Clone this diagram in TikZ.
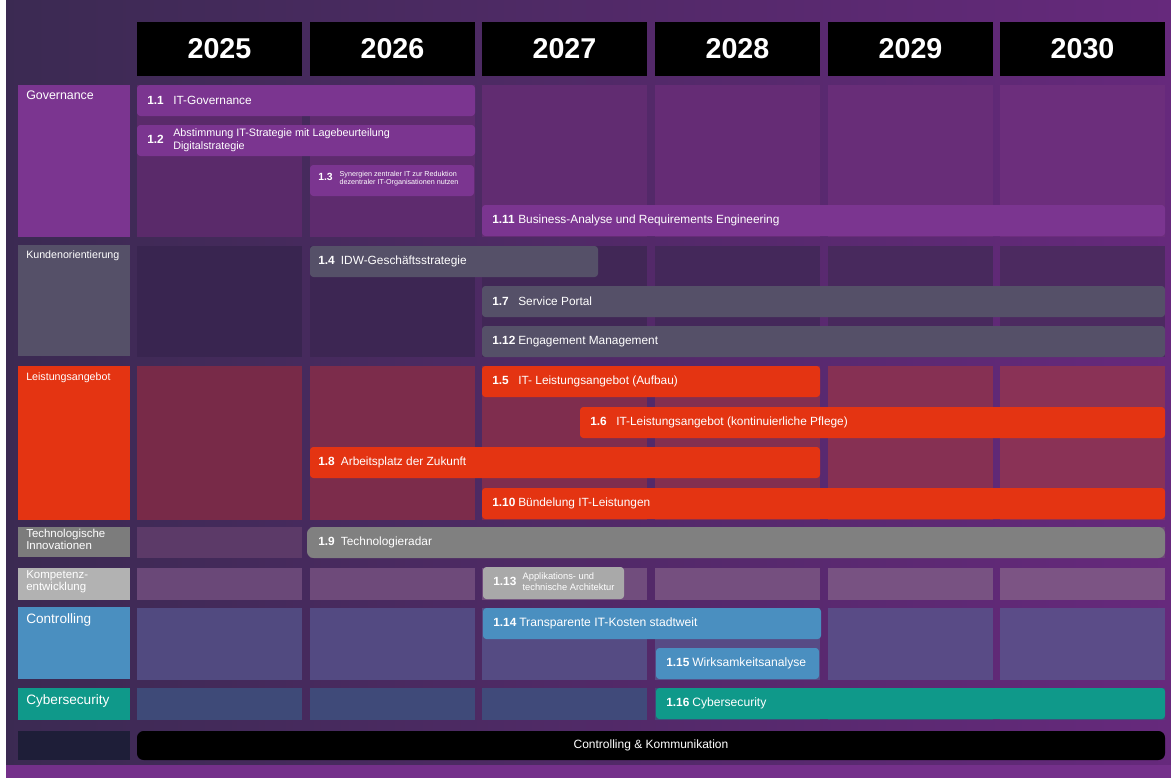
\documentclass[tikz,border=0pt]{standalone}
\usepackage{fontspec}
\setmainfont{Liberation Sans}
\usetikzlibrary{fit,calc}
\definecolor{bgL}{HTML}{3B2A52}
\definecolor{bgR}{HTML}{66297C}
\definecolor{bgBottom}{HTML}{74308A}
\definecolor{govC}{HTML}{7B3590}
\definecolor{kunC}{HTML}{555068}
\definecolor{leiC}{HTML}{E43412}
\definecolor{tecC}{HTML}{7C7C7C}
\definecolor{tecBar}{HTML}{808080}
\definecolor{komC}{HTML}{B2B2B2}
\definecolor{komBar}{HTML}{A9A9A9}
\definecolor{conC}{HTML}{4A8FC0}
\definecolor{cybC}{HTML}{0F998A}
\definecolor{navyC}{HTML}{1E1E38}
% cell colours (left / right)
\definecolor{govA}{HTML}{5A2A6A}\definecolor{govB}{HTML}{6C2E7C}
\definecolor{kunA}{HTML}{392550}\definecolor{kunB}{HTML}{4C2A60}
\definecolor{leiA}{HTML}{782A48}\definecolor{leiB}{HTML}{8A3256}
\definecolor{tecA}{HTML}{5C3A68}\definecolor{tecB}{HTML}{6E4478}
\definecolor{komA}{HTML}{6A4878}\definecolor{komB}{HTML}{7C5484}
\definecolor{conA}{HTML}{514A80}\definecolor{conB}{HTML}{5B4C88}
\definecolor{cybA}{HTML}{3E4A78}\definecolor{cybB}{HTML}{434A7C}

\tikzset{
  box/.style={inner sep=0pt, outer sep=0pt, draw=none},
  taskbox/.style={box, rounded corners=2.5pt},
  tasktext/.style={inner sep=0pt, text=white, font=\fontsize{8.9}{10.5}\selectfont, anchor=west},
  labeltext/.style={inner sep=0pt, text=white, anchor=north west, align=left},
  yeartext/.style={inner sep=0pt, text=white, font=\fontsize{21.5}{24}\selectfont\bfseries},
}

\newcommand\rowlabel[6]{% name, y1, y2, colour, font, text
  \node[box, fill=#4, fit={(18,#2)(130,#3)}] (#1) {};
  \node[labeltext, font=#5] (#1t) at ($(#1.north west)+(8,6)$) {#6};
}
\newcommand\rowcells[4]{% y1, y2, colA, colB
  \foreach \i/\xl in {0/137,1/310,2/482,3/655,4/828,5/1000}{
    \pgfmathtruncatemacro\pct{100-20*\i}
    \fill[#3!\pct!#4] (\xl,#1) rectangle ({\xl+165},#2);
  }
}
\newcommand\task[8]{% name, x1, y1, x2, y2, colour, number, text
  \node[taskbox, fill=#6, fit={(#2,#3)(#4,#5)}] (#1) {};
  \node[tasktext] (#1t) at ($(#1.west)+(10,0)$) {\makebox[19.5pt][l]{\bfseries #7}#8};
}

\begin{document}
\begin{tikzpicture}[x=0.75pt,y=-0.75pt]
\useasboundingbox (0,0) rectangle (1171,778);
% background
\shade[left color=bgL, right color=bgR] (0,0) rectangle (1171,778);
\fill[bgBottom] (0,765) rectangle (1171,778);
\fill[white] (0,0) rectangle (6,778);

% year headers
\foreach \i/\xl/\yr in {0/137/2025,1/310/2026,2/482/2027,3/655/2028,4/828/2029,5/1000/2030}{
  \node[box, fill=black, fit={(\xl,22)({\xl+165},76)}] (year\i) {};
  \node[yeartext] (yeart\i) at (year\i.center) {\yr};
}

% cells
\rowcells{85}{237}{govA}{govB}
\rowcells{246}{357}{kunA}{kunB}
\rowcells{366}{520}{leiA}{leiB}
\rowcells{527}{558}{tecA}{tecB}
\rowcells{568}{600}{komA}{komB}
\rowcells{608}{680}{conA}{conB}
\rowcells{688}{720}{cybA}{cybB}

% row labels
\rowlabel{gov}{85}{237}{govC}{\fontsize{9.3}{11}\selectfont}{Governance}
\rowlabel{kun}{245}{356}{kunC}{\fontsize{8}{10}\selectfont}{Kundenorientierung}
\rowlabel{lei}{366}{520}{leiC}{\fontsize{8}{10}\selectfont}{Leistungsangebot}
\node[box, fill=tecC, fit={(18,527)(130,557)}] (tec) {};
\node[labeltext, font=\fontsize{8.6}{9.2}\selectfont] (tect) at ($(tec.north west)+(8,2)$) {Technologische\\Innovationen};
\node[box, fill=komC, fit={(18,568)(130,600)}] (kom) {};
\node[labeltext, font=\fontsize{8.6}{9.2}\selectfont] (komt) at ($(kom.north west)+(8,2.5)$) {Kompetenz-\\entwicklung};
\rowlabel{con}{607}{679}{conC}{\fontsize{10.2}{12}\selectfont}{Controlling}
\rowlabel{cyb}{688}{720}{cybC}{\fontsize{10.2}{12}\selectfont}{Cybersecurity}
\node[box, fill=navyC, fit={(18,731)(130,760)}] (navy) {};

% Governance tasks
\task{t11}{137}{85}{475}{116}{govC}{1.1}{IT-Governance}
\node[taskbox, fill=govC, fit={(137,125)(475,156)}] (t12) {};
\node[tasktext] (t12t) at ($(t12.west)+(10,0)$) {\makebox[19.5pt][l]{\bfseries 1.2}{\fontsize{8.1}{9.8}\selectfont\begin{tabular}{@{}l@{}}Abstimmung IT-Strategie mit Lagebeurteilung\\Digitalstrategie\end{tabular}}};
\node[taskbox, fill=govC, fit={(310,165)(474,196)}] (t13) {};
\node[tasktext] (t13t) at ($(t13.west)+(8,-2)$) {\makebox[16pt][l]{\fontsize{7.8}{9}\selectfont\bfseries 1.3}{\fontsize{5.4}{6}\selectfont\begin{tabular}{@{}l@{}}Synergien zentraler IT zur Reduktion\\dezentraler IT-Organisationen nutzen\end{tabular}}};
\task{t111}{482}{205}{1165}{236}{govC}{1.11}{Business-Analyse und Requirements Engineering}

% Kundenorientierung tasks
\node[taskbox, fill=kunC, fit={(310,246)(598,277)}] (t14) {};
\node[tasktext] (t14t) at ($(t14.west)+(8,0)$) {\makebox[17pt][l]{\bfseries 1.4}IDW-Geschäftsstrategie};
\task{t17}{482}{286}{1165}{317}{kunC}{1.7}{Service Portal}
\task{t112}{482}{326}{1165}{357}{kunC}{1.12}{Engagement Management}

% Leistungsangebot tasks
\task{t15}{482}{366}{820}{397}{leiC}{1.5}{IT- Leistungsangebot (Aufbau)}
\task{t16}{580}{407}{1165}{438}{leiC}{1.6}{IT-Leistungsangebot (kontinuierliche Pflege)}
\node[taskbox, fill=leiC, fit={(310,447)(820,478)}] (t18) {};
\node[tasktext] (t18t) at ($(t18.west)+(8,0)$) {\makebox[17pt][l]{\bfseries 1.8}Arbeitsplatz der Zukunft};
\task{t110}{482}{488}{1165}{519}{leiC}{1.10}{Bündelung IT-Leistungen}

% Technologische Innovationen
\node[box, rounded corners=5pt, fill=tecBar, fit={(307,527)(1165,558)}] (t19) {};
\node[tasktext] (t19t) at ($(t19.west)+(11,0)$) {\makebox[17pt][l]{\bfseries 1.9}Technologieradar};

% Kompetenzentwicklung
\node[taskbox, fill=komBar, fit={(483,567)(624,599)}] (t113) {};
\node[tasktext] (t113t) at ($(t113.west)+(10,0)$) {\makebox[22pt][l]{\bfseries 1.13}{\fontsize{7}{8.2}\selectfont\begin{tabular}{@{}l@{}}Applikations- und\\technische Architektur\end{tabular}}};

% Controlling
\task{t114}{483}{608}{821}{639}{conC}{1.14}{\fontsize{9.1}{10.5}\selectfont Transparente IT-Kosten stadtweit}
\task{t115}{656}{648}{819}{679}{conC}{1.15}{\fontsize{9.1}{10.5}\selectfont Wirksamkeitsanalyse}

% Cybersecurity
\task{t116}{656}{688}{1165}{719}{cybC}{1.16}{\fontsize{9.1}{10.5}\selectfont Cybersecurity}

% bottom bar
\node[box, rounded corners=5pt, fill=black, fit={(137,731)(1165,760)}] (ck) {};
\node[inner sep=0pt, text=white, font=\fontsize{9}{10.5}\selectfont] (ckt) at (ck.center) {Controlling \& Kommunikation};
\end{tikzpicture}
\end{document}
